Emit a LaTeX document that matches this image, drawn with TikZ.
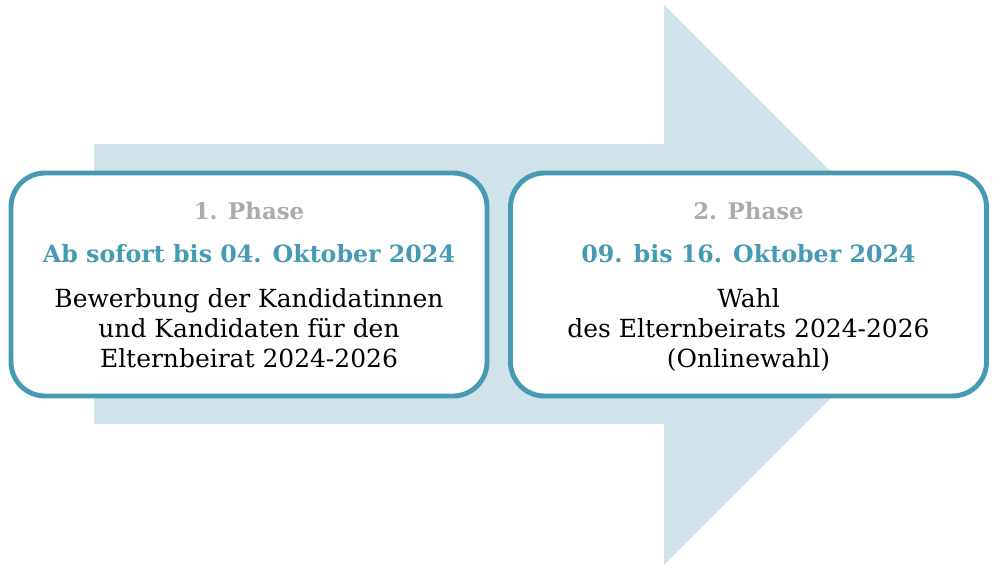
\documentclass[tikz,border=0pt]{standalone}
\usepackage{fontspec}
\setmainfont{DejaVu Serif}
\definecolor{arrowblue}{RGB}{208,226,234}
\definecolor{phaseteal}{RGB}{70,154,179}
\definecolor{phasegrey}{RGB}{170,170,176}

\begin{document}
\begin{tikzpicture}[
		every node/.style={inner sep=0pt},
		phasebox/.style={draw=phaseteal, line width=2.8pt, fill=white, rounded corners=0.68cm, minimum width=9.52cm, minimum height=4.46cm},
		phasenum/.style={text=phasegrey, font=\bfseries\fontsize{13}{15}\selectfont, anchor=base},
		phasedate/.style={text=phaseteal, font=\bfseries\fontsize{13.5}{16}\selectfont, anchor=base},
		phasetext/.style={align=center, font=\fontsize{14.2}{17}\selectfont, anchor=base}
	]
  \useasboundingbox (0,0) rectangle (20,11.42);
  \fill[arrowblue] (1.88,8.54) -- (13.28,8.54) -- (13.28,11.32) -- (18.88,5.72)
    -- (13.28,0.12) -- (13.28,2.94) -- (1.88,2.94) -- cycle;
  \node (box_1) [phasebox] at (4.98,5.73) {};
  \node (box_2) [phasebox] at (14.97,5.73) {};
  \node (num_1) [phasenum] at (4.98,7.04) {1. Phase};
  \node (num_2) [phasenum] at (14.97,7.04) {2. Phase};
  \node (date_1) [phasedate] at (4.98,6.18) {Ab sofort bis 04. Oktober 2024};
  \node (date_2) [phasedate] at (14.97,6.18) {09. bis 16. Oktober 2024};
  \node (text_1) [phasetext] at (4.98,4.08) {Bewerbung der Kandidatinnen\\und Kandidaten für den\\Elternbeirat 2024-2026};
  \node (text_2) [phasetext] at (14.97,4.08) {Wahl\\des Elternbeirats 2024-2026\\(Onlinewahl)};
\end{tikzpicture}
\end{document}
